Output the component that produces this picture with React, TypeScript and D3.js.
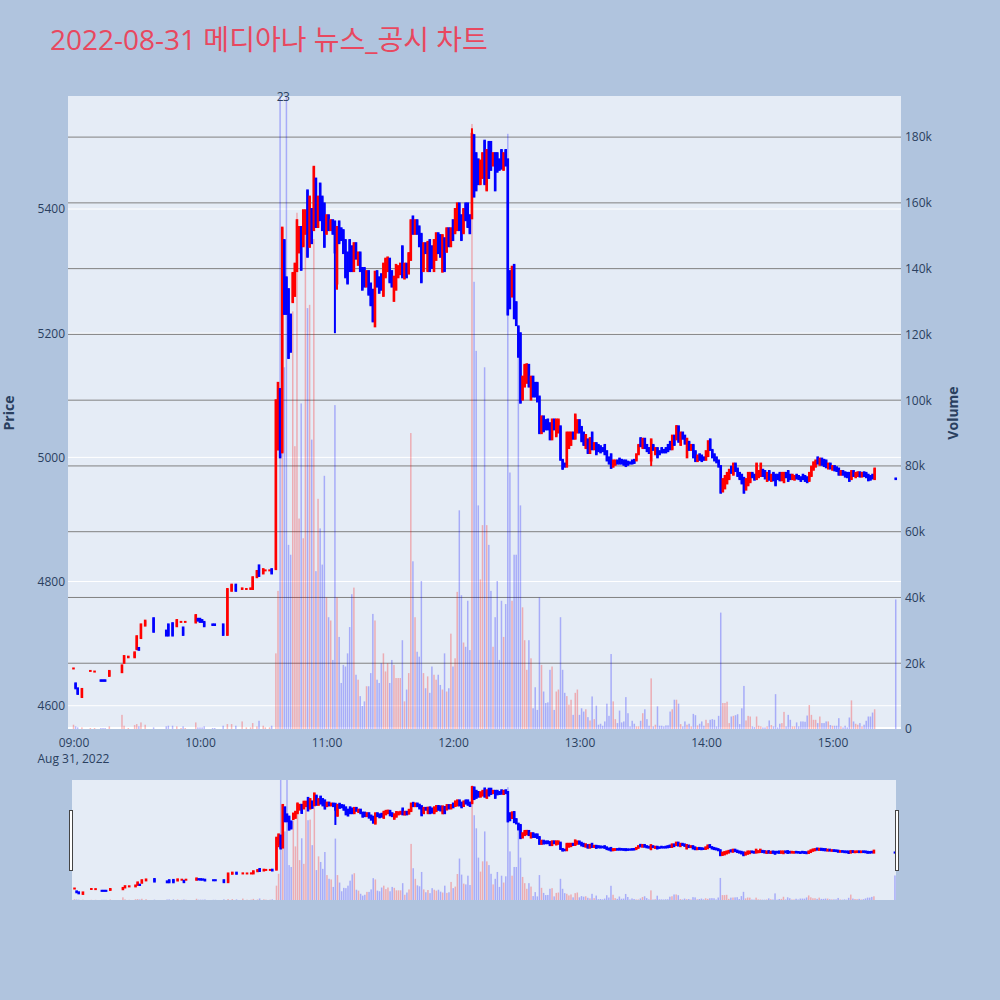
import React, { useRef, useEffect } from 'react';
import * as d3 from 'd3';

const title = '2022-08-31 메디아나 뉴스_공시 차트';

// morning: sparse trades, minutes after 09:00
const amMinute = [0, 1, 2, 4, 8, 10, 13, 14, 15, 17, 23, 24, 26, 29, 30, 31, 32, 34, 38, 44, 45, 47, 49, 51, 52, 53, 58, 59, 60, 61, 62, 66, 67, 71, 73, 75, 77, 80, 82, 84, 85, 87, 88, 90, 91, 93, 94];
const amOpen = [4660, 4636, 4628, 4614, 4656, 4655, 4641, 4641, 4641, 4648, 4654, 4669, 4678, 4678, 4691, 4693, 4709, 4729, 4741, 4721, 4731, 4733, 4728, 4735, 4726, 4735, 4734, 4740, 4740, 4738, 4735, 4731, 4731, 4731, 4714, 4785, 4795, 4788, 4788, 4788, 4788, 4807, 4826, 4813, 4818, 4818, 4820];
const amClose = [4660, 4628, 4619, 4627, 4656, 4655, 4640, 4640, 4640, 4656, 4665, 4680, 4679, 4686, 4712, 4690, 4731, 4737, 4719, 4713, 4713, 4713, 4738, 4735, 4714, 4735, 4746, 4737, 4735, 4735, 4728, 4730, 4730, 4714, 4788, 4795, 4785, 4789, 4788, 4789, 4807, 4817, 4809, 4820, 4818, 4818, 4813];
const amVolume = [1.3, 0.8, 0.5, 0.5, 0.3, 0.3, 0.3, 0.3, 0.3, 0.8, 4.3, 1.0, 0.3, 1.2, 1.5, 0.8, 2.0, 1.3, 0.5, 0.8, 1.0, 1.0, 0.8, 0.3, 0.8, 0.3, 2.0, 0.5, 0.5, 0.5, 0.8, 0.3, 0.3, 1.0, 1.5, 1.5, 1.0, 2.3, 0.5, 0.5, 1.8, 0.8, 2.5, 1.0, 0.5, 0.5, 1.0];

// 10:36 to 15:20, one candle every minute
const sessStart = 96;
const sessOpen = [
  4820, 5040, 5110, 5008, 5350, 5290, 5271, 5230, 5250, 5260,
  5300, 5330, 5371, 5340, 5360, 5430, 5339, 5400, 5366, 5449,
  5371, 5441, 5420, 5409, 5360, 5390, 5366, 5382, 5380, 5280,
  5380, 5369, 5366, 5350, 5330, 5350, 5340, 5300, 5345, 5310,
  5330, 5305, 5305, 5275, 5300, 5280, 5270, 5211, 5300, 5290,
  5295, 5260, 5290, 5300, 5320, 5300, 5252, 5270, 5290, 5295,
  5340, 5288, 5312, 5296, 5318, 5388, 5360, 5382, 5372, 5360,
  5300, 5345, 5300, 5350, 5340, 5300, 5318, 5361, 5358, 5299,
  5353, 5331, 5369, 5340, 5382, 5361, 5366, 5409, 5390, 5361,
  5409, 5409, 5390, 5385, 5519, 5490, 5480, 5440, 5450, 5510,
  5430, 5508, 5508, 5470, 5490, 5490, 5480, 5495, 5463, 5495,
  5480, 5300, 5259, 5310, 5250, 5211, 5200, 5093, 5114, 5120,
  5149, 5093, 5130, 5120, 5120, 5098, 5039, 5066, 5060, 5061,
  5055, 5029, 5061, 5034, 5040, 5050, 4996, 4990, 4985, 5015,
  5020, 5040, 5030, 5040, 5060, 5049, 5040, 5015, 5029, 5007,
  5040, 5013, 5023, 5020, 5018, 5015, 5020, 5010, 5000, 5005,
  4985, 4988, 4995, 4998, 4996, 4995, 4995, 4993, 4992, 4995,
  4996, 4995, 5005, 5031, 5015, 5030, 5020, 5015, 4995, 5020,
  5005, 5015, 5010, 5015, 5012, 5015, 5020, 5025, 5013, 5035,
  5029, 5050, 5020, 5040, 5035, 5000, 5025, 5012, 5020, 5010,
  4994, 5005, 5003, 5000, 4996, 5002, 5029, 5012, 5005, 5000,
  4995, 4986, 4945, 4950, 4958, 4965, 4985, 4972, 4990, 4982,
  4975, 4972, 4967, 4948, 4955, 4960, 4975, 4972, 4965, 4968,
  4970, 4980, 4978, 4962, 4978, 4962, 4975, 4972, 4972, 4975,
  4963, 4960, 4975, 4978, 4972, 4965, 4964, 4972, 4970, 4968,
  4972, 4970, 4968, 4962, 4970, 4980, 4985, 5000, 4988, 4998,
  4996, 4995, 4982, 4990, 4980, 4986, 4984, 4982, 4972, 4978,
  4976, 4975, 4975, 4965, 4978, 4968, 4970, 4976, 4969, 4976,
  4975, 4972, 4970, 4972, 4965,
];
const sessClose = [
  5092, 5120, 5000, 5370, 5231, 5231, 5160, 5170, 5297, 5312,
  5382, 5371, 5302, 5398, 5398, 5323, 5420, 5345, 5468, 5371,
  5420, 5382, 5366, 5339, 5390, 5366, 5382, 5360, 5330, 5371,
  5345, 5350, 5329, 5290, 5280, 5300, 5300, 5345, 5320, 5330,
  5300, 5270, 5275, 5300, 5262, 5245, 5219, 5299, 5275, 5265,
  5270, 5312, 5320, 5322, 5282, 5275, 5291, 5310, 5308, 5312,
  5290, 5312, 5290, 5329, 5382, 5360, 5382, 5360, 5340, 5282,
  5345, 5329, 5347, 5300, 5305, 5350, 5361, 5329, 5323, 5358,
  5300, 5369, 5340, 5369, 5350, 5400, 5409, 5366, 5350, 5400,
  5382, 5371, 5361, 5521, 5420, 5430, 5440, 5478, 5490, 5440,
  5495, 5450, 5463, 5490, 5430, 5460, 5463, 5465, 5490, 5470,
  5230, 5240, 5307, 5224, 5213, 5162, 5088, 5130, 5149, 5150,
  5114, 5130, 5098, 5098, 5090, 5039, 5066, 5042, 5045, 5045,
  5029, 5061, 5045, 5061, 5061, 4996, 4982, 4985, 5040, 5040,
  5040, 5030, 5069, 5060, 5040, 5026, 5020, 5036, 5007, 5031,
  5013, 5023, 5005, 5010, 5008, 5010, 5005, 4995, 4990, 4983,
  4995, 4995, 4990, 4990, 4990, 4988, 4986, 4988, 4990, 4990,
  4991, 5005, 5020, 5018, 5030, 5015, 5010, 5007, 5029, 5012,
  5015, 5000, 5005, 5008, 5008, 5008, 5010, 5013, 5035, 5020,
  5050, 5025, 5040, 5030, 5022, 5030, 5012, 5020, 5000, 4994,
  5003, 4996, 4994, 4996, 5010, 5026, 5012, 5000, 4995, 4992,
  4985, 4943, 4965, 4970, 4975, 4980, 4975, 4990, 4978, 4970,
  4965, 4958, 4943, 4965, 4975, 4975, 4968, 4964, 4990, 4978,
  4990, 4970, 4966, 4975, 4964, 4972, 4963, 4955, 4965, 4963,
  4975, 4975, 4968, 4962, 4965, 4972, 4970, 4966, 4965, 4962,
  4965, 4962, 4960, 4975, 4985, 4992, 4995, 4990, 4998, 4988,
  4986, 4984, 4990, 4982, 4986, 4979, 4978, 4972, 4978, 4972,
  4969, 4968, 4962, 4978, 4970, 4975, 4976, 4969, 4975, 4970,
  4968, 4963, 4964, 4966, 4982,
];
// thousand shares
const sessVolume = [
  23, 42, 260, 95, 110, 250, 56, 53, 127, 86,
  157, 64, 99, 58, 154, 128, 129, 88, 149, 48,
  70, 61, 50, 77, 40, 34, 33, 21, 98.5, 40,
  28, 14, 19.5, 19, 23, 31, 41, 43, 16.5, 15,
  10, 7, 8.4, 13, 13, 17, 35, 33, 15, 14,
  20, 23, 17.5, 20, 14, 21, 19.5, 15.5, 15.5, 15.5,
  27, 8.4, 12, 17, 90, 51, 34, 23.5, 22, 45,
  17, 12.4, 16, 11, 19, 16.5, 15, 16.5, 13.4, 12,
  23, 11.4, 12.4, 29, 19, 21.5, 41.7, 66.5, 40.7, 26.3,
  25, 39, 24, 184, 136, 115, 68, 45.5, 62, 110,
  62, 56, 42, 25, 34, 45, 21, 39, 28, 38,
  181, 78, 39, 53, 53, 115, 68, 37, 27, 18,
  27, 21.5, 6.3, 12.7, 5.8, 40, 19.5, 11.4, 7.9, 8.1,
  18, 19, 5.8, 11.4, 12, 34, 18, 11, 10, 7.4,
  8.9, 4.3, 11, 12, 4.3, 6.3, 5.3, 6.0, 3.6, 2.6,
  9.9, 3.0, 7.1, 1.3, 1.6, 1.0, 2.3, 7.7, 4.0, 22.8,
  8.4, 3.0, 1.8, 5.6, 2.0, 2.3, 9.7, 4.8, 0.8, 2.5,
  1.6, 0.8, 0.8, 2.5, 4.8, 6.0, 3.0, 1.0, 15.4, 0.8,
  1.3, 6.9, 1.0, 1.0, 0.8, 1.1, 1.1, 5.3, 6.0, 8.9,
  8.9, 7.7, 1.5, 0.8, 2.3, 1.3, 1.6, 0.8, 4.6, 4.2,
  1.1, 1.6, 2.3, 1.0, 2.8, 1.8, 2.8, 3.0, 2.8, 0.8,
  4.0, 35.4, 7.9, 7.9, 8.3, 1.8, 3.8, 4.0, 4.2, 4.5,
  1.5, 6.3, 13.1, 2.6, 4.0, 3.8, 0.8, 0.6, 3.8, 1.0,
  0.8, 0.5, 0.5, 0.8, 2.6, 1.2, 0.8, 10.6, 0.5, 1.6,
  1.8, 5.2, 0.8, 4.3, 2.8, 0.8, 0.8, 2.0, 0.8, 2.3,
  2.3, 2.2, 4.1, 7.3, 4.3, 2.8, 2.8, 1.8, 3.8, 1.8,
  1.8, 2.3, 2.3, 1.2, 1.0, 1.0, 1.0, 3.3, 0.8, 0.5,
  1.0, 0.5, 3.5, 8.7, 2.3, 1.6, 1.3, 1.8, 0.8, 1.3,
  2.5, 3.8, 3.8, 5.0, 6.0,
];

// 15:30 closing auction
const auctionMinute = 390;
const auctionOpen = 4966;
const auctionClose = 4965;
const auctionVolume = 39.4;

// long shadows beyond the bodies: [minute, price]
const lowWicks = [[97, 5011], [124, 5200], [125, 5270], [232, 4980], [274, 4986]];
const highWicks = [[189, 5530], [286, 5052]];

const newsMarks = [{ minute: 98, label: '2' }, { minute: 101, label: '3' }];

const priceTicks = [4600, 4800, 5000, 5200, 5400];
const volumeTicks = [0, 20, 40, 60, 80, 100, 120, 140, 160, 180];
const timeTicks = [0, 60, 120, 180, 240, 300, 360];
const timeLabels = ['09:00', '10:00', '11:00', '12:00', '13:00', '14:00', '15:00'];

const UP = '#ff0000';
const DOWN = '#0000ff';
const TEXT = '#2a3f5f';
const FONT = '"Open Sans", "Noto Sans CJK KR", sans-serif';

const App = () => {
  const ref = useRef(null);

  useEffect(() => {
    const svg = d3.select(ref.current);
    svg.selectAll('*').remove();

    const highMap = new Map(highWicks.map((d) => [d[0], d[1]]));
    const lowMap = new Map(lowWicks.map((d) => [d[0], d[1]]));

    const candles = [];
    amMinute.forEach((m, i) => candles.push({ m, o: amOpen[i], c: amClose[i], v: amVolume[i] }));
    sessOpen.forEach((o, i) => candles.push({ m: sessStart + i, o, c: sessClose[i], v: sessVolume[i] }));
    candles.push({ m: auctionMinute, o: auctionOpen, c: auctionClose, v: auctionVolume });
    candles.forEach((d) => {
      d.hi = Math.max(d.o, d.c, highMap.has(d.m) ? highMap.get(d.m) : -Infinity);
      d.lo = Math.min(d.o, d.c, lowMap.has(d.m) ? lowMap.get(d.m) : Infinity);
      d.color = d.c >= d.o ? UP : DOWN;
    });

    svg.append('rect').attr('width', 1000).attr('height', 1000).attr('fill', '#b0c4de');

    // title
    svg.append('text')
      .attr('x', 50).attr('y', 50)
      .attr('fill', '#e8485f')
      .style('font-family', FONT)
      .style('font-size', '28px')
      .text(title);

    const defs = svg.append('defs');

    const drawPanel = (box, x, yP, yV, id, withGrid) => {
      defs.append('clipPath').attr('id', id)
        .append('rect')
        .attr('x', box.left).attr('y', box.top)
        .attr('width', box.right - box.left).attr('height', box.bottom - box.top);

      svg.append('rect')
        .attr('x', box.left).attr('y', box.top)
        .attr('width', box.right - box.left).attr('height', box.bottom - box.top)
        .attr('fill', '#e5ecf6');

      const g = svg.append('g').attr('clip-path', `url(#${id})`);

      if (withGrid) {
        g.selectAll('.pgrid').data(priceTicks).join('line')
          .attr('x1', box.left).attr('x2', box.right)
          .attr('y1', (d) => yP(d)).attr('y2', (d) => yP(d))
          .attr('stroke', '#ffffff').attr('stroke-width', 1);
        g.selectAll('.vgrid').data(volumeTicks.slice(1)).join('line')
          .attr('x1', box.left).attr('x2', box.right)
          .attr('y1', (d) => yV(d)).attr('y2', (d) => yV(d))
          .attr('stroke', '#808080').attr('stroke-width', 1);
        g.append('line')
          .attr('x1', box.left).attr('x2', box.right)
          .attr('y1', yV(0) - 1).attr('y2', yV(0) - 1)
          .attr('stroke', '#ffffff').attr('stroke-width', 2);
      }

      // volume bars
      g.append('g').selectAll('rect').data(candles).join('rect')
        .attr('x', (d) => x(d.m) - 0.75)
        .attr('width', 1.5)
        .attr('y', (d) => yV(d.v))
        .attr('height', (d) => yV(0) - yV(d.v))
        .attr('fill', (d) => d.color)
        .attr('fill-opacity', 0.27);

      // candles: wick plus body with a 2px outline
      const cg = g.append('g');
      cg.selectAll('line').data(candles).join('line')
        .attr('x1', (d) => x(d.m)).attr('x2', (d) => x(d.m))
        .attr('y1', (d) => yP(d.hi)).attr('y2', (d) => yP(d.lo))
        .attr('stroke', (d) => d.color).attr('stroke-width', 2);
      cg.selectAll('rect').data(candles).join('rect')
        .attr('x', (d) => x(d.m) - 1.3)
        .attr('width', 2.6)
        .attr('y', (d) => yP(Math.max(d.o, d.c)) - 1)
        .attr('height', (d) => Math.abs(yP(d.o) - yP(d.c)) + 2)
        .attr('fill', (d) => d.color);
    };

    // main panel
    const plot = { left: 68, right: 901, top: 96, bottom: 729 };
    const x = d3.scaleLinear().domain([-2.6, 392.5]).range([plot.left, plot.right]);
    const yP = d3.scaleLinear().domain([4562.5, 5582]).range([plot.bottom, plot.top]);
    const yV = d3.scaleLinear().domain([0, 192.5]).range([plot.bottom, plot.top]);
    drawPanel(plot, x, yP, yV, 'clip-main', true);

    // news markers over the clipped volume bars
    svg.selectAll('.news').data(newsMarks).join('text')
      .attr('x', (d) => x(d.minute)).attr('y', plot.top + 5)
      .attr('text-anchor', 'middle')
      .attr('fill', TEXT)
      .style('font-family', FONT).style('font-size', '12px')
      .text((d) => d.label);

    // axes
    const yAxisL = d3.axisLeft(yP).tickValues(priceTicks).tickSize(0).tickPadding(3)
      .tickFormat(d3.format('d'));
    svg.append('g').attr('transform', `translate(${plot.left},0)`).call(yAxisL)
      .call((s) => s.select('.domain').remove());
    const yAxisR = d3.axisRight(yV).tickValues(volumeTicks).tickSize(0).tickPadding(4)
      .tickFormat((d) => (d === 0 ? '0' : `${d}k`));
    svg.append('g').attr('transform', `translate(${plot.right},0)`).call(yAxisR)
      .call((s) => s.select('.domain').remove());
    const xAxis = d3.axisBottom(x).tickValues(timeTicks).tickSize(0).tickPadding(9)
      .tickFormat((d, i) => timeLabels[i]);
    svg.append('g').attr('transform', `translate(0,${plot.bottom})`).call(xAxis)
      .call((s) => s.select('.domain').remove());
    svg.selectAll('.tick text')
      .attr('fill', TEXT)
      .style('font-family', FONT)
      .style('font-size', '12px');

    svg.append('text')
      .attr('x', x(0)).attr('y', 763)
      .attr('text-anchor', 'middle')
      .attr('fill', TEXT)
      .style('font-family', FONT).style('font-size', '12px')
      .text('Aug 31, 2022');

    svg.append('text')
      .attr('transform', 'translate(14,413) rotate(-90)')
      .attr('text-anchor', 'middle')
      .attr('fill', TEXT)
      .style('font-family', FONT).style('font-size', '14px').style('font-weight', 'bold')
      .text('Price');
    svg.append('text')
      .attr('transform', 'translate(958,413) rotate(-90)')
      .attr('text-anchor', 'middle')
      .attr('fill', TEXT)
      .style('font-family', FONT).style('font-size', '14px').style('font-weight', 'bold')
      .text('Volume');

    // range slider
    const sl = { left: 72, right: 896, top: 780, bottom: 900 };
    const xs = d3.scaleLinear().domain([-1.2, 390.5]).range([sl.left, sl.right]);
    const ysP = d3.scaleLinear().domain([4562.5, 5582]).range([sl.bottom, sl.top]);
    const ysV = d3.scaleLinear().domain([0, 192.5]).range([sl.bottom, sl.top]);
    drawPanel(sl, xs, ysP, ysV, 'clip-slider', false);

    [sl.left - 2.5, sl.right - 0.5].forEach((hx) => {
      svg.append('rect')
        .attr('x', hx).attr('y', 810.5)
        .attr('width', 3).attr('height', 60)
        .attr('fill', '#ffffff')
        .attr('stroke', '#444444').attr('stroke-width', 1);
    });
  }, []);

  return <svg ref={ref} width={1000} height={1000} style={{ position: 'absolute', left: 0, top: 0 }} />;
};

export default App;
